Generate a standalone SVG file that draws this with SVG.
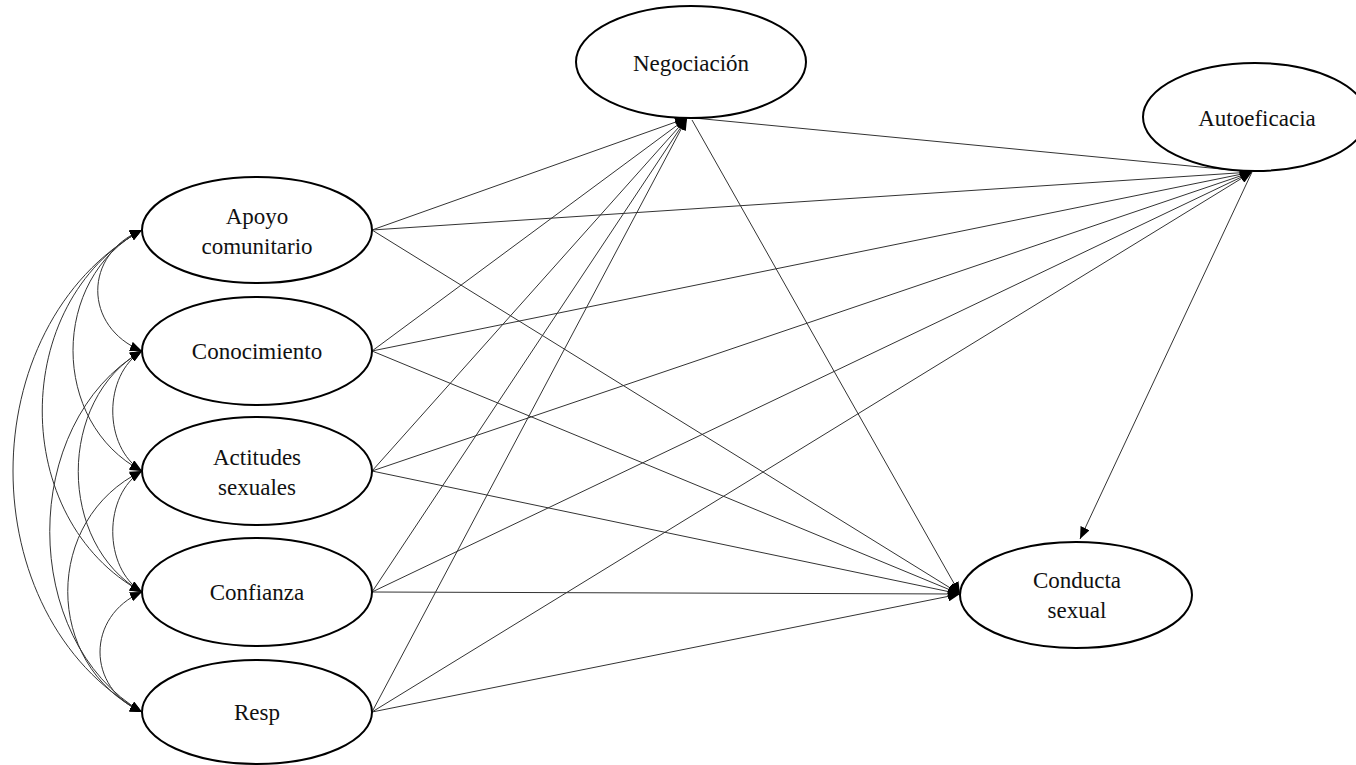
<svg xmlns="http://www.w3.org/2000/svg" width="1356" height="765" viewBox="0 0 1356 765">
  <style>
    .node ellipse { fill: #ffffff; stroke: #000000; stroke-width: 2; }
    .node text { font-size: 23px; fill: #111111; text-anchor: middle; }
    .path { fill: none; stroke: #333333; stroke-width: 1; marker-end: url(#head); }
    .cov { fill: none; stroke: #333333; stroke-width: 1; marker-start: url(#head); marker-end: url(#head); }
  </style>
  <defs>
    <marker id="head" markerUnits="userSpaceOnUse" markerWidth="13" markerHeight="10" refX="12" refY="5" orient="auto-start-reverse">
      <path d="M0,0 L12,5 L0,10 z" fill="#000000"/>
    </marker>
  </defs>
  <rect width="1356" height="765" fill="#ffffff"/>

  <!-- connectors drawn first so the ellipses sit on top -->
  <g id="connectors">
    <!-- covariances between the exogenous variables -->
    <path class="cov" d="M142,230 C83,254 83,327 142,351"/>
    <path class="cov" d="M142,230 C50,278 50,423 142,471"/>
    <path class="cov" d="M142,230 C9,302 9,520 142,592"/>
    <path class="cov" d="M142,230 C-30,326 -30,616 142,712"/>
    <path class="cov" d="M142,351 C103,375 103,447 142,471"/>
    <path class="cov" d="M142,351 C57,399 57,544 142,592"/>
    <path class="cov" d="M142,351 C19,423 19,640 142,712"/>
    <path class="cov" d="M142,471 C103,495 103,568 142,592"/>
    <path class="cov" d="M142,471 C43,519 43,664 142,712"/>
    <path class="cov" d="M142,592 C86,616 86,688 142,712"/>

    <!-- paths to Negociación -->
    <line class="path" x1="372" y1="230" x2="687" y2="118"/>
    <line class="path" x1="372" y1="351" x2="687" y2="118"/>
    <line class="path" x1="372" y1="471" x2="687" y2="118"/>
    <line class="path" x1="372" y1="592" x2="687" y2="118"/>
    <line class="path" x1="372" y1="712" x2="687" y2="118"/>

    <!-- paths to Autoeficacia -->
    <line class="path" x1="372" y1="230" x2="1252" y2="172"/>
    <line class="path" x1="372" y1="351" x2="1252" y2="172"/>
    <line class="path" x1="372" y1="471" x2="1252" y2="172"/>
    <line class="path" x1="372" y1="592" x2="1252" y2="172"/>
    <line class="path" x1="372" y1="712" x2="1252" y2="172"/>
    <line class="path" x1="694" y1="118" x2="1252" y2="172"/>

    <!-- paths to Conducta sexual -->
    <line class="path" x1="372" y1="230" x2="960" y2="594"/>
    <line class="path" x1="372" y1="351" x2="960" y2="594"/>
    <line class="path" x1="372" y1="471" x2="960" y2="594"/>
    <line class="path" x1="372" y1="592" x2="960" y2="594"/>
    <line class="path" x1="372" y1="712" x2="960" y2="594"/>
    <line class="path" x1="692" y1="120" x2="960" y2="594"/>
    <line class="path" x1="1252" y1="172" x2="1080" y2="539"/>
  </g>

  <g font-family="Liberation Serif, Times New Roman, serif">
    <g id="negociacion" class="node">
      <ellipse cx="691" cy="62" rx="115" ry="56"/>
      <text x="691" y="71">Negociación</text>
    </g>
    <g id="autoeficacia" class="node">
      <ellipse cx="1255" cy="117" rx="112" ry="54"/>
      <text x="1257" y="126">Autoeficacia</text>
    </g>
    <g id="conducta" class="node">
      <ellipse cx="1076" cy="595" rx="116" ry="53"/>
      <text x="1077" y="588">Conducta</text>
      <text x="1077" y="618">sexual</text>
    </g>
    <g id="apoyo" class="node">
      <ellipse cx="257" cy="230" rx="115" ry="53"/>
      <text x="257" y="224">Apoyo</text>
      <text x="257" y="254">comunitario</text>
    </g>
    <g id="conocimiento" class="node">
      <ellipse cx="257" cy="351" rx="115" ry="54"/>
      <text x="257" y="359">Conocimiento</text>
    </g>
    <g id="actitudes" class="node">
      <ellipse cx="257" cy="471" rx="115" ry="54"/>
      <text x="257" y="465">Actitudes</text>
      <text x="257" y="495">sexuales</text>
    </g>
    <g id="confianza" class="node">
      <ellipse cx="257" cy="592" rx="115" ry="54"/>
      <text x="257" y="600">Confianza</text>
    </g>
    <g id="resp" class="node">
      <ellipse cx="257" cy="712" rx="115" ry="52"/>
      <text x="257" y="720">Resp</text>
    </g>
  </g>
</svg>
